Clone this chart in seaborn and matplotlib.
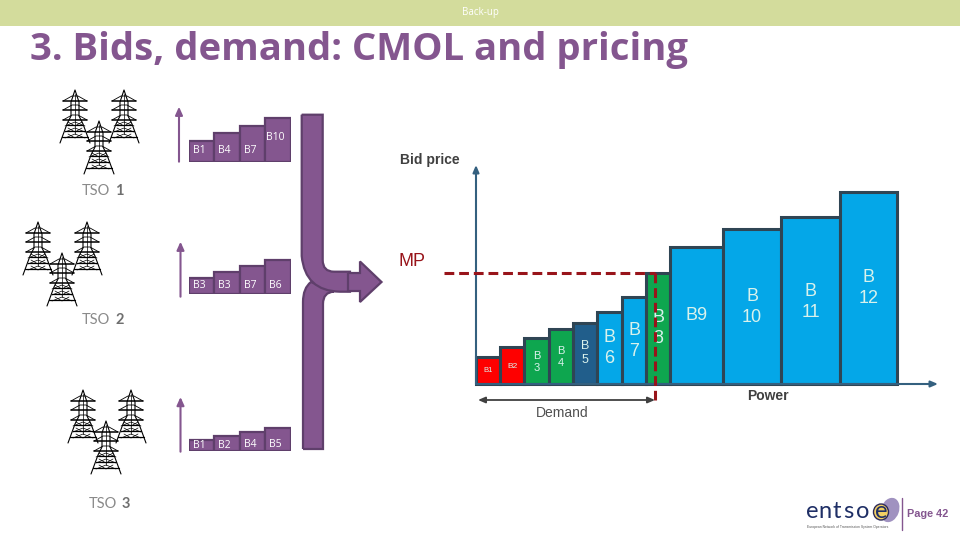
import numpy as np
import matplotlib
matplotlib.use('Agg')
import matplotlib.pyplot as plt
from matplotlib.path import Path
from matplotlib.patches import PathPatch, Rectangle, Ellipse
import seaborn as sns

sns.set_theme(style='white')
plt.rcParams['font.family'] = ['Liberation Sans', 'DejaVu Sans']

W, H = 960, 540
PURPLE = '#84568f'
PURPLE_EDGE = '#5f3f6b'
GREY = '#8a8a8a'

# --- data ---
# main merit order
bid_labels = ['B1', 'B2', 'B\n3', 'B\n4', 'B\n5', 'B\n6', 'B\n7', 'B\n8', 'B9', 'B\n10', 'B\n11', 'B\n12']
bid_widths = [24, 24, 25, 24, 24, 25, 24, 24, 53, 58, 59, 57]
bid_prices = [27, 37, 46, 55, 61, 72, 87, 111, 137, 155, 167, 192]
bid_colors = ['#fe0000', '#fe0000', '#0ea64f', '#0ea64f', '#215e8b', '#04a7e8', '#04a7e8', '#0ea64f',
              '#04a7e8', '#04a7e8', '#04a7e8', '#04a7e8']
bid_label_y = [14, 18, 22, 27, 31, 36, 43, 56, 69, 77, 82, 96]
bid_label_size = [5.5, 6, 8, 8, 9, 13, 13, 13, 13, 13, 13, 13]
mp_price = 111
demand = 179

# bids per TSO
tso_names = ['1', '2', '3']
tso_labels = [['B1', 'B4', 'B7', 'B10'], ['B3', 'B3', 'B7', 'B6'], ['B1', 'B2', 'B4', 'B5']]
tso_heights = [[21, 29, 36, 44], [16, 22, 28, 34], [11, 15, 19, 23]]
tso_label_y = [[11, 11, 11, 24], [8, 8, 8, 9], [5.5, 5.5, 6.5, 6.5]]

# where things go on the slide (pixels)
tso_base = [161.7, 294, 450.7]
tso_arrow = [(179, 161.7, 106.7), (180.5, 296.7, 241.7), (180.5, 451.7, 397)]
tso_text = [(82, 191), (82, 320), (89, 504)]
towers = [[(75, 90), (124, 90), (99, 121)], [(38, 222), (87, 222), (62, 253)], [(83, 390), (131, 390), (106, 421)]]
logo_letters = ['e', 'n', 't', 's', 'o', 'e']
logo_x = [812, 825, 837, 848, 863, 881]


def add_axes_px(x0, y_top, x1, y_bot, **kw):
    return fig.add_axes([x0 / W, 1 - y_bot / H, (x1 - x0) / W, (y_bot - y_top) / H], **kw)


fig = plt.figure(figsize=(9.6, 5.4), dpi=100)

# full slide overlay in pixel coordinates
ov = fig.add_axes([0, 0, 1, 1], zorder=1)
ov.set_xlim(0, W)
ov.set_ylim(H, 0)
ov.axis('off')

ov.add_patch(Rectangle((0, 0), W, 26, fc='#d3dc9c', ec='none'))
ov.text(480, 12.5, 'Back-up', color='white', fontsize=7, family='Open Sans', ha='center', va='center')
ov.text(30, 50, '3. Bids, demand: CMOL and pricing', color=PURPLE, fontsize=27.5, family='Open Sans',
        weight='bold', ha='left', va='center')


def draw_tower(x, y):
    # legs and body
    ov.plot([x - 15, x - 8, x - 4, x - 4, x, x + 4, x + 4, x + 8, x + 15],
            [y + 53, y + 34, y + 26, y + 12, y, y + 12, y + 26, y + 34, y + 53], color='black', lw=0.8)
    ov.plot([x, x], [y + 4, y + 44], color='black', lw=0.5)
    # cross arms with their stays
    for dy in [11, 20, 30]:
        ov.plot([x - 12, x + 12], [y + dy, y + dy], color='black', lw=1.1)
        ov.plot([x - 12, x - 3, x + 3, x + 12], [y + dy, y + dy - 5, y + dy - 5, y + dy], color='black', lw=0.6)
    for dy, dx in [(35, 8), (41, 10), (47, 13)]:
        ov.plot([x - dx, x + dx], [y + dy, y + dy], color='black', lw=0.9)
    for dy in [32, 38, 44]:
        ov.plot([x - 10, x, x + 10], [y + dy + 4, y + dy, y + dy + 4], color='black', lw=0.5)
        ov.plot([x - 7, x, x + 7], [y + dy, y + dy + 4, y + dy], color='black', lw=0.5)


for group in towers:
    for tx, ty in group:
        draw_tower(tx, ty)

for i, name in enumerate(tso_names):
    tx, ty = tso_text[i]
    ov.text(tx, ty, 'TSO', color=GREY, fontsize=10.5, family='Lato', va='center')
    ov.text(tx + 33, ty, name, color='#6f6f6f', fontsize=10.5, family='Lato', weight='bold', va='center')
    ax_x, y_from, y_to = tso_arrow[i]
    ov.annotate('', xy=(ax_x, y_to), xytext=(ax_x, y_from),
                arrowprops=dict(arrowstyle='-|>,head_width=0.18,head_length=0.4', color=PURPLE, lw=1.5,
                                shrinkA=0, shrinkB=0))

# purple pipes and the arrow into the market
M, L, C = Path.MOVETO, Path.LINETO, Path.CURVE3
upper = Path([(301.7, 114.7), (322.7, 114.7), (322.7, 260), (322.7, 271.7), (334, 271.7), (350, 271.7),
              (350, 291.7), (340, 291.7), (305, 291), (301.7, 256), (301.7, 114.7)],
             [M, L, L, C, C, L, L, L, C, C, L])
lower = Path([(303, 449), (323, 449), (323, 304), (323, 292), (334, 291.7), (325, 288), (311, 282),
              (303, 288), (303, 302), (303, 449)],
             [M, L, L, C, C, L, L, C, C, L])
shaft_arrow = Path([(348, 273), (360, 273), (360, 261.5), (381.5, 282), (360, 302), (360, 291), (348, 291), (348, 273)],
                   [M, L, L, L, L, L, L, L])
for p in [lower, upper, shaft_arrow]:
    ov.add_patch(PathPatch(p, fc=PURPLE, ec=PURPLE_EDGE, lw=1.6, joinstyle='miter'))

# small bid ladders, one per TSO
for i in range(3):
    ax_t = add_axes_px(188.7, tso_base[i] - 50, 290.7, tso_base[i], zorder=2)
    ax_t.patch.set_visible(False)
    sns.barplot(x=np.arange(4), y=tso_heights[i], color=PURPLE, saturation=1, width=1,
                edgecolor=PURPLE_EDGE, linewidth=1.6, ax=ax_t)
    for k, lab in enumerate(tso_labels[i]):
        ax_t.text(k - 0.1, tso_label_y[i][k], lab, color='white', fontsize=7.5, family='Open Sans',
                  ha='center', va='center')
    ax_t.set_xlim(-0.5, 3.5)
    ax_t.set_ylim(0, 50)
    ax_t.axis('off')

# main chart: axes units are pixels from the origin of the drawn axes
ax = add_axes_px(476, 165, 938, 384, zorder=3)
ax.patch.set_visible(False)
edges = np.concatenate([[0], np.cumsum(bid_widths)])
centers = (edges[:-1] + edges[1:]) / 2
sns.histplot(x=centers, weights=bid_prices, bins=edges.tolist(), ax=ax, color='#04a7e8', alpha=1,
             edgecolor='#2f4554', linewidth=2.2)
for patch, col in zip(ax.patches, bid_colors):
    patch.set_facecolor(col)
    patch.set_clip_on(False)
ax.set_xlim(0, 462)
ax.set_ylim(0, 219)
ax.set_xlabel('')
ax.set_ylabel('')
ax.set_xticks([])
ax.set_yticks([])
for s in ['top', 'right', 'left', 'bottom']:
    ax.spines[s].set_visible(False)

for cx, lab, ly, fs in zip(centers, bid_labels, bid_label_y, bid_label_size):
    ax.text(cx, ly, lab, color='#d9f2ec', fontsize=fs, ha='center', va='center', linespacing=1.3, zorder=5)

AXIS = '#34607f'
ax.annotate('', xy=(0, 219), xytext=(0, 0), annotation_clip=False,
            arrowprops=dict(arrowstyle='-|>,head_width=0.15,head_length=0.35', color=AXIS, lw=1.5, shrinkA=0, shrinkB=0))
ax.annotate('', xy=(462, 0), xytext=(0, 0), annotation_clip=False,
            arrowprops=dict(arrowstyle='-|>,head_width=0.15,head_length=0.35', color=AXIS, lw=1.5, shrinkA=0, shrinkB=0))

# market price and demand
ax.plot([-32, demand], [mp_price, mp_price], color='#98141a', lw=2.2, ls=(0, (3.2, 1.6)), clip_on=False, zorder=6)
ax.plot([demand, demand], [mp_price, -16], color='#98141a', lw=2.2, ls=(0, (3.2, 1.6)), clip_on=False, zorder=6)
ax.annotate('', xy=(2, -16), xytext=(demand, -16), annotation_clip=False,
            arrowprops=dict(arrowstyle='<|-|>,head_width=0.15,head_length=0.35', color='#404040', lw=1.3,
                            shrinkA=0, shrinkB=0))

ax.text(-76, 224, 'Bid price', color='#404040', fontsize=10, ha='left', va='center', clip_on=False, weight='bold')
ax.text(-78, 122, 'MP', color='#98141a', fontsize=13, ha='left', va='center', clip_on=False)
ax.text(86, -29, 'Demand', color='#505050', fontsize=10, ha='center', va='center', clip_on=False)
ax.text(292, -12, 'Power', color='#404040', fontsize=10, weight='bold', ha='center', va='center', clip_on=False)

# logo and page number
ov.add_patch(Ellipse((890, 510), 18, 25, angle=20, fc='#8f7fb5', ec='none', alpha=0.85))
ov.add_patch(Ellipse((881, 512), 15, 16, fc='#f2cf63', ec='#2d2a5a', lw=1))
for lx, letter in zip(logo_x, logo_letters):
    ov.text(lx, 512, letter, color='#1f2f66', fontsize=17, family='Lato', ha='center', va='center')
ov.text(807, 527, 'European Network of Transmission System Operators', color='#555555', fontsize=2.4, va='center')
ov.plot([902, 902], [498, 530], color=PURPLE, lw=1)
ov.text(907, 514, 'Page 42', color=PURPLE, fontsize=7.8, weight='bold', ha='left', va='center')

fig.savefig('out.png', dpi=100)
